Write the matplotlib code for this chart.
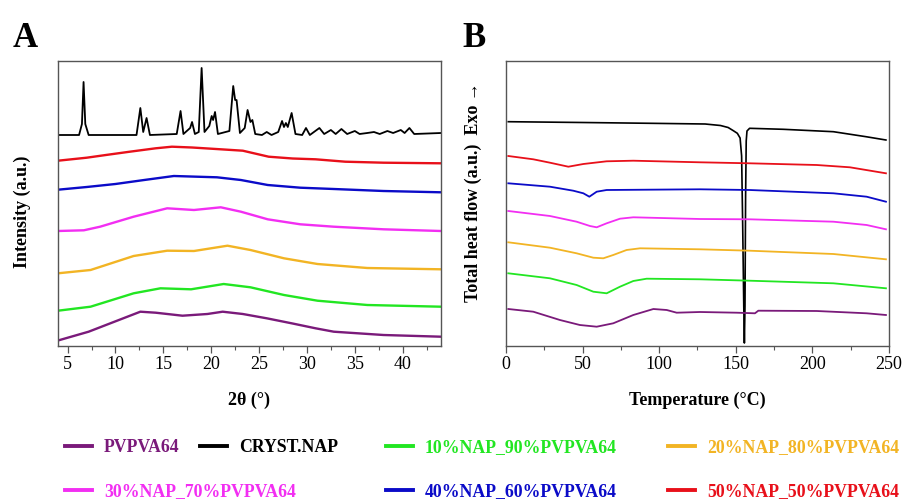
import matplotlib.pyplot as plt
from matplotlib.lines import Line2D
from matplotlib.ticker import MultipleLocator

plt.rcParams['font.family'] = ['Liberation Serif', 'DejaVu Serif']

# colours of the samples
c_pvpva = '#7a1a7a'
c_cryst = '#000000'
c_10 = '#22e622'
c_20 = '#f2b424'
c_30 = '#f22ef2'
c_40 = '#0b0bc8'
c_50 = '#e8101a'

# ---- XRD (panel A), 2theta in degrees, intensity stacked (a.u.)
cryst_x = [4.0, 6.2, 6.5, 6.67, 6.85, 7.2, 12.2, 12.6, 12.9, 13.25, 13.6, 16.4, 16.8, 17.1,
           17.8, 18.0, 18.3, 18.7, 19.0, 19.3, 19.8, 20.05, 20.2, 20.4, 20.7, 21.9, 22.3,
           22.5, 22.65, 23.0, 23.5, 23.8, 24.1, 24.3, 24.6, 25.3, 25.8, 26.3, 27.0, 27.4,
           27.6, 27.8, 28.0, 28.4, 28.8, 29.5, 29.9, 30.3, 31.3, 31.8, 32.5, 33.0, 33.6,
           34.2, 35.0, 35.5, 36.3, 37.0, 37.6, 38.4, 39.0, 39.8, 40.2, 40.7, 41.2, 44.0]
cryst_y = [211, 211, 222, 264, 222, 211, 211, 238, 214, 228, 211, 212, 235, 212,
           218, 224, 212, 214, 278, 214, 220, 230, 226, 234, 212, 215, 260,
           246, 246, 213, 218, 236, 224, 226, 212, 211, 214, 211, 214, 225,
           219, 223, 219, 233, 212, 211, 218, 211, 218, 212, 216, 212, 217,
           212, 215, 212, 213, 214, 212, 215, 213, 216, 213, 218, 212, 213]

x_50 = [4, 7, 9.0, 11.5, 14.2, 15.9, 18.0, 20.5, 23.3, 26.0, 28.5, 30.9, 34, 38, 44]
xrd_50 = [185.3, 188.3, 191, 194.3, 197.7, 199.3, 198.5, 197, 195.3, 189.3, 187.5, 186.7,
          184.3, 183.3, 182.7]

x_40 = [4, 7, 10, 13, 16.1, 18.5, 20.6, 23.1, 25.9, 29.3, 32.8, 38, 44]
xrd_40 = [156.3, 159, 162, 166, 170, 169.3, 168.7, 166, 161, 158.3, 157, 155, 153.7]

x_30 = [4, 6.7, 8.4, 11.9, 15.4, 18.2, 21.0, 23.1, 25.9, 29.3, 32.8, 38, 44]
xrd_30 = [115, 115.7, 119.3, 129.3, 137.7, 136, 138.7, 134.3, 126.7, 121.7, 119.3, 116.7, 115]

x_20 = [4, 7.4, 11.9, 15.4, 18.2, 21.7, 24.1, 27.6, 31.1, 36.3, 44]
xrd_20 = [72.7, 76, 90, 95.3, 95, 100.3, 96, 87.7, 82, 78, 76.7]

x_10 = [4, 7.4, 11.9, 14.7, 17.9, 21.3, 24.1, 27.6, 31.1, 36.3, 44]
xrd_10 = [35.3, 39.3, 52.7, 57.7, 56.7, 62, 58.7, 51, 45.3, 41, 39.3]

x_pv = [4, 7.2, 9.9, 12.6, 14.2, 17.0, 19.6, 21.2, 23.3, 25.8, 28.5, 30.9, 32.8, 38, 44]
xrd_pv = [5.5, 14.3, 24.3, 34.3, 33.3, 30.3, 32, 34.3, 32, 27.7, 22.5, 17.7, 14.3, 11, 9.3]

# ---- DSC (panel B), temperature in degC, heat flow stacked (a.u.)
dsc_cryst_t = [1.5, 50, 94, 130, 140, 145, 148.4, 151, 152.8, 153.8, 154.5, 155.2, 155.6,
               156.0, 156.4, 156.8, 157.3, 159, 181, 213.7, 235, 248]
dsc_cryst = [224.3, 223.5, 222.7, 222, 220.5, 218.5, 215.3, 212.7, 208, 190, 120, 40, 3,
             40, 150, 205, 215, 217.7, 216.7, 214.3, 209.3, 206]

dsc_50_t = [1.5, 17.8, 28.7, 40.7, 50.5, 65.7, 83.1, 126.6, 159, 202.8, 224.5, 248]
dsc_50 = [190, 186.7, 183.3, 179.3, 182, 184.7, 185.3, 183.7, 182.7, 181, 178.7, 172.7]

dsc_40_t = [1.5, 28.7, 43.9, 50.5, 54.4, 59.2, 65.7, 126.6, 159, 213.7, 235.4, 248]
dsc_40 = [162.7, 159.3, 155.3, 152.7, 149.3, 154.3, 156, 156.7, 156, 152.7, 149.3, 144.3]

dsc_30_t = [1.5, 28.7, 46.1, 54.8, 59.2, 65.7, 74.4, 83.1, 126.6, 159, 213.7, 235.4, 248]
dsc_30 = [135, 130, 124.3, 120, 118.7, 122.7, 127.3, 128.7, 127, 126.7, 124.3, 121, 116.7]

dsc_20_t = [1.5, 28.7, 46.1, 57, 63.5, 70, 78.7, 87.5, 126.6, 159, 213.7, 248]
dsc_20 = [103.7, 98.3, 92.7, 88.3, 87.7, 91, 96, 97.7, 96.7, 95.3, 92, 86.7]

dsc_10_t = [1.5, 28.7, 46.1, 57, 65.7, 74.4, 83.1, 91.8, 126.6, 159, 213.7, 248]
dsc_10 = [72.7, 67.7, 61, 54.3, 52.7, 59.3, 65, 67.3, 66.7, 65.3, 62.7, 57.7]

dsc_pv_t = [1.5, 17.8, 35.2, 48.2, 59.2, 70, 83.1, 96.2, 104.9, 111.4, 126.6, 150.6,
            162.5, 164.7, 202.8, 235.4, 248]
dsc_pv = [37, 34.3, 26, 21, 19.3, 22.7, 31, 37, 36, 33.3, 34, 33.3,
          32.7, 35.3, 35, 32.7, 31]

fig = plt.figure(figsize=(9.04, 5.04), dpi=100)
axA = fig.add_axes([58 / 904, 1 - 346 / 504, 383 / 904, 285 / 504])
axB = fig.add_axes([506 / 904, 1 - 346 / 504, 383 / 904, 285 / 504])

lw = 1.7
axA.plot(cryst_x, cryst_y, color=c_cryst, lw=1.3)
axA.plot(x_50, xrd_50, color=c_50, lw=lw)
axA.plot(x_40, xrd_40, color=c_40, lw=lw)
axA.plot(x_30, xrd_30, color=c_30, lw=lw)
axA.plot(x_20, xrd_20, color=c_20, lw=lw)
axA.plot(x_10, xrd_10, color=c_10, lw=lw)
axA.plot(x_pv, xrd_pv, color=c_pvpva, lw=lw)

lwb = 1.3
axB.plot(dsc_cryst_t, dsc_cryst, color=c_cryst, lw=1.2)
axB.plot(dsc_50_t, dsc_50, color=c_50, lw=lwb)
axB.plot(dsc_40_t, dsc_40, color=c_40, lw=lwb)
axB.plot(dsc_30_t, dsc_30, color=c_30, lw=lwb)
axB.plot(dsc_20_t, dsc_20, color=c_20, lw=lwb)
axB.plot(dsc_10_t, dsc_10, color=c_10, lw=lwb)
axB.plot(dsc_pv_t, dsc_pv, color=c_pvpva, lw=lwb)

axA.set_xlim(4, 44)
axA.xaxis.set_major_locator(MultipleLocator(5))
axA.xaxis.set_minor_locator(MultipleLocator(2.5))
axB.set_xlim(0, 250)
axB.xaxis.set_major_locator(MultipleLocator(50))
axB.xaxis.set_minor_locator(MultipleLocator(25))

for ax in (axA, axB):
    ax.set_ylim(0, 285)
    ax.set_yticks([])
    for s in ax.spines.values():
        s.set_color('#555555')
        s.set_linewidth(1.0)
    ax.tick_params(axis='x', which='major', direction='out', length=5, width=0.9,
                   color='#555555', labelsize=13, pad=2)
    ax.tick_params(axis='x', which='minor', direction='out', length=3, width=0.8,
                   color='#555555')

axA.set_xlabel('2θ (°)', fontsize=13, fontweight='bold', labelpad=14)
axB.set_xlabel('Temperature (°C)', fontsize=13, fontweight='bold', labelpad=14)
fig.text(22 / 904, 1 - 212 / 504, 'Intensity (a.u.)', rotation=90, ha='center', va='center',
         fontsize=13, fontweight='bold')
fig.text(473 / 904, 1 - 192 / 504, 'Total heat flow (a.u.)  Exo →', rotation=90,
         ha='center', va='center', fontsize=13, fontweight='bold')

fig.text(13 / 904, 1 - 47 / 504, 'A', fontsize=25, fontweight='bold', ha='left', va='baseline')
fig.text(462 / 904, 1 - 47 / 504, 'B', fontsize=25, fontweight='bold', ha='left', va='baseline')

# legend entries placed like in the figure
entries = [('PVPVA64', c_pvpva, 65, 448), ('CRYST.NAP', c_cryst, 200, 448),
           ('10%NAP_90%PVPVA64', c_10, 386, 448), ('20%NAP_80%PVPVA64', c_20, 668, 448),
           ('30%NAP_70%PVPVA64', c_30, 65, 492), ('40%NAP_60%PVPVA64', c_40, 386, 492),
           ('50%NAP_50%PVPVA64', c_50, 668, 492)]
for lab, col, px, py in entries:
    h = Line2D([], [], color=col, lw=2.8)
    fig.legend(handles=[h], labels=[lab], loc='center left',
               bbox_to_anchor=(px / 904, 1 - py / 504), frameon=False,
               prop={'size': 12.8, 'weight': 'bold'}, labelcolor=col,
               handlelength=1.5, handletextpad=0.7, borderpad=0, borderaxespad=0)

fig.savefig('out.png', dpi=100)
